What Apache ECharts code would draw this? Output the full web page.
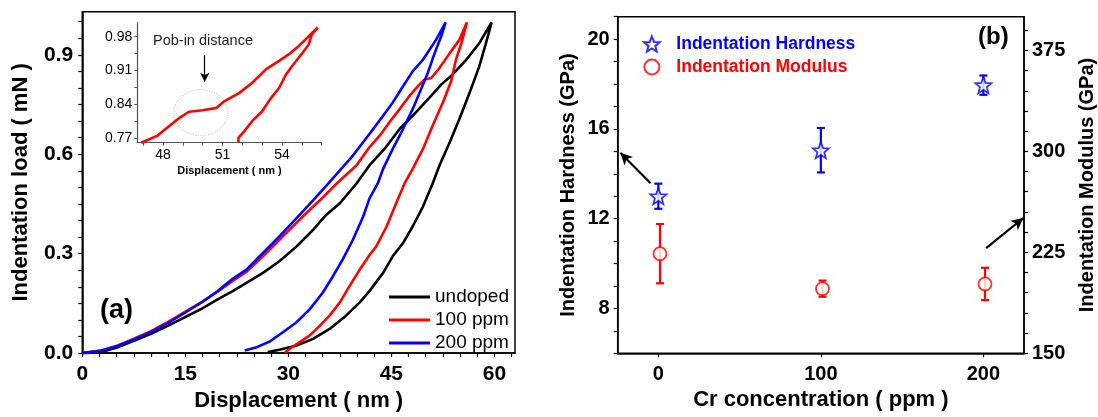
<!DOCTYPE html>
<html>
<head>
<meta charset="utf-8">
<script src="https://cdn.jsdelivr.net/npm/echarts@6/dist/echarts.min.js"></script>
<style>
  html, body { margin: 0; padding: 0; background: #fff; }
  #chart { width: 1098px; height: 417px; }
</style>
</head>
<body>
<div id="chart"></div>
<script>
// ---- panel (a): load-displacement curves [displacement nm, load mN] ----
const undopedLoading = [[0,0],[2.8,0.003],[5.2,0.018],[7.6,0.038],[10,0.058],[12.5,0.083],[14.9,0.108],[17.3,0.133],[19.7,0.162],[21.9,0.187],[23.9,0.212],[26.3,0.242],[28.7,0.277],[31.2,0.322],[33.6,0.372],[35.5,0.417],[37.5,0.452],[39.9,0.511],[41.8,0.566],[44.0,0.616],[46.2,0.676],[48.1,0.716],[50.55,0.771],[52.25,0.81],[53.9,0.84],[55.9,0.885],[57.8,0.935],[59.6,0.998]];
const undopedUnloading = [[59.6,0.998],[58.7,0.93],[57.8,0.865],[56.4,0.786],[54.9,0.706],[53.5,0.636],[52.0,0.566],[51.0,0.511],[49.6,0.442],[48.1,0.382],[46.7,0.332],[45.2,0.292],[43.8,0.242],[41.8,0.187],[40.4,0.153],[38.4,0.113],[36.0,0.073],[33.6,0.043],[31.2,0.023],[28.7,0.01],[27.0,0.003]];
const ppm100Loading = [[0,0],[2.8,0.008],[5.2,0.023],[7.6,0.044],[10,0.066],[12.5,0.094],[14.9,0.124],[17.3,0.153],[19.7,0.185],[21.9,0.218],[23.9,0.245],[26.3,0.292],[29.2,0.352],[32.1,0.412],[34.6,0.461],[37.0,0.511],[39.9,0.566],[41.8,0.621],[43.3,0.656],[44.7,0.696],[46.2,0.736],[47.6,0.775],[48.85,0.805],[49.8,0.825],[50.8,0.83],[52.0,0.86],[53.5,0.905],[54.9,0.945],[56.0,0.998]];
const ppm100Unloading = [[56.0,0.998],[55.2,0.935],[54.4,0.885],[53.7,0.82],[52.5,0.756],[51.0,0.686],[49.6,0.616],[48.1,0.556],[46.9,0.511],[45.7,0.452],[44.3,0.382],[42.8,0.322],[41.8,0.295],[40.4,0.252],[38.9,0.202],[37.5,0.153],[36.0,0.113],[34.6,0.083],[33.1,0.053],[31.65,0.033],[30.2,0.013],[29.5,0.001]];
const ppm200Loading = [[0,0],[2.8,0.008],[5.2,0.022],[7.6,0.042],[10,0.064],[12.5,0.091],[14.9,0.121],[17.3,0.152],[19.7,0.187],[21.9,0.224],[23.9,0.252],[26.3,0.302],[28.7,0.352],[31.2,0.407],[33.6,0.461],[35.8,0.511],[39.4,0.596],[41.8,0.661],[43.8,0.716],[45.2,0.756],[46.7,0.805],[48.1,0.85],[49.6,0.885],[51.5,0.945],[52.9,0.998]];
const ppm200Unloading = [[52.9,0.998],[52.25,0.955],[51.3,0.905],[50.3,0.845],[49.3,0.795],[48.1,0.736],[46.7,0.676],[45.2,0.616],[43.8,0.556],[43.0,0.511],[41.8,0.466],[40.9,0.412],[39.4,0.342],[37.9,0.282],[36.5,0.232],[35.0,0.182],[33.1,0.132],[31.2,0.093],[29.2,0.063],[27.3,0.035],[25.4,0.018],[23.65,0.008]];

// inset: pop-in region of the 100 ppm curve
const insetLoading = [[46.9,0.761],[47.7,0.775],[48.2,0.792],[48.85,0.813],[49.3,0.825],[50.0,0.828],[50.7,0.833],[51.1,0.847],[51.85,0.864],[52.5,0.885],[53.2,0.913],[53.85,0.93],[54.35,0.944],[54.85,0.961],[55.35,0.981],[55.8,0.999]];
const insetUnloading = [[55.8,0.999],[55.5,0.985],[55.35,0.964],[54.85,0.937],[54.5,0.919],[54.2,0.902],[53.85,0.874],[53.4,0.851],[53.0,0.826],[52.5,0.806],[52.1,0.785],[51.8,0.771],[51.8,0.761]];
const popInCircle = [[49.9, 0.823]];
const popInArrow = [[50.1, 0.942], [50.1, 0.887]];

const aXLabels = [0, 15, 30, 45, 60];
const aXTicks = [0,2.5,5,7.5,10,12.5,15,17.5,20,22.5,25,27.5,30,32.5,35,37.5,40,42.5,45,47.5,50,52.5,55,57.5,60,62.5];
const aYLabels = [0, 0.3, 0.6, 0.9];
const aYTicks = [0,0.05,0.1,0.15,0.2,0.25,0.3,0.35,0.4,0.45,0.5,0.55,0.6,0.65,0.7,0.75,0.8,0.85,0.9,0.95,1.0];
const insetXLabels = [48, 51, 54];
const insetXTicks = [47, 48, 49, 50, 51, 52, 53, 54, 55, 56];
const insetYLabels = [0.77, 0.84, 0.91, 0.98];
const insetYTicks = [0.77, 0.805, 0.84, 0.875, 0.91, 0.945, 0.98];

// ---- panel (b): hardness / modulus vs Cr concentration ----
const crHardness = [0, 100, 200];
const hardness = [13.0, 15.05, 17.95];
const hardnessErr = [0.56, 0.99, 0.43];
const crModulus = [1, 101, 201];
const modulus = [224, 198, 201.5];
const modulusErr = [22, 6, 12];
const hardnessArrow = [[-4.75, 13.58], [-23.4, 14.94]];
const modulusArrow = [[201.7, 10.69], [224.6, 12.03]];

const bXLabels = [0, 100, 200];
const bLeftLabels = [8, 12, 16, 20];
const bLeftTicks = [6,7,8,9,10,11,12,13,14,15,16,17,18,19,20,21];
const bRightLabels = [150, 225, 300, 375];
const bRightTicks = [150,165,180,195,210,225,240,255,270,285,300,315,330,345,360,375,390];

const FONT = 'Liberation Sans, Arial, sans-serif';
const RED = '#ff0000', BLUE = '#0000ff', BLACK = '#000000';
const STAR = 'path://M0,-10 L2.6,-3.4 L9.5,-3.1 L4.1,1.3 L5.9,8.1 L0,4.3 L-5.9,8.1 L-4.1,1.3 L-9.5,-3.1 L-2.6,-3.4 Z';

const chart = echarts.init(document.getElementById('chart'), null, { renderer: 'canvas' });

function axisBase(fontSize, bold, margin) {
  return {
    type: 'value',
    splitLine: { show: false },
    axisLine: { show: true, onZero: false, lineStyle: { color: BLACK, width: 1.5 } },
    axisTick: { show: true, length: 4, lineStyle: { color: BLACK, width: 1.2 } },
    axisLabel: { color: BLACK, fontFamily: FONT, fontSize, fontWeight: bold ? 'bold' : 'normal', margin },
    nameTextStyle: { color: BLACK, fontFamily: FONT, fontWeight: 'bold' },
  };
}

function mergeAxis(base, extra) {
  const out = Object.assign({}, base, extra);
  ['axisLine', 'axisTick', 'axisLabel', 'nameTextStyle'].forEach((k) => {
    if (extra[k]) out[k] = Object.assign({}, base[k], extra[k]);
  });
  return out;
}

function errorBars(color) {
  return (params, api) => {
    const x = api.value(0), y = api.value(1), e = api.value(2);
    const top = api.coord([x, y + e]);
    const bot = api.coord([x, y - e]);
    const cap = 4;
    const st = { stroke: color, lineWidth: 2.2 };
    return {
      type: 'group',
      children: [
        { type: 'line', shape: { x1: top[0], y1: top[1], x2: bot[0], y2: bot[1] }, style: st },
        { type: 'line', shape: { x1: top[0] - cap, y1: top[1], x2: top[0] + cap, y2: top[1] }, style: st },
        { type: 'line', shape: { x1: bot[0] - cap, y1: bot[1], x2: bot[0] + cap, y2: bot[1] }, style: st },
      ],
    };
  };
}

function arrowLine(pts, width, size) {
  return {
    silent: true,
    symbol: ['none', 'arrow'],
    symbolSize: size,
    label: { show: false },
    lineStyle: { color: BLACK, width, type: 'solid' },
    data: [[{ coord: pts[0] }, { coord: pts[1] }]],
  };
}

const curve = (name, load, unload, color) => ({
  name, type: 'line', xAxisIndex: 0, yAxisIndex: 0,
  data: load.concat(unload.slice(1)),
  symbol: 'none', showSymbol: false, animation: false,
  lineStyle: { color, width: 2.6 }, itemStyle: { color },
});

chart.setOption({
  animation: false,
  backgroundColor: '#fff',
  grid: [
    { left: 82.3, top: 11.7, width: 432.7, height: 344.3, show: true, borderColor: BLACK, borderWidth: 1.5, backgroundColor: 'transparent' },
    { left: 137.3, top: 22.7, width: 184.4, height: 120 },
    { left: 617.7, top: 16.7, width: 406.8, height: 336.6, show: true, borderColor: BLACK, borderWidth: 1.5, backgroundColor: 'transparent' },
  ],
  legend: [
    {
      data: ['undoped', '100 ppm', '200 ppm'],
      orient: 'vertical', left: 384, top: 282,
      icon: 'rect', itemWidth: 41, itemHeight: 3, itemGap: 3,
      textStyle: { fontFamily: FONT, fontSize: 19, color: BLACK, lineHeight: 20 },
      selectedMode: false,
    },
    {
      data: [
        { name: 'Indentation Hardness', textStyle: { color: BLUE } },
        { name: 'Indentation Modulus', textStyle: { color: RED } },
      ],
      orient: 'vertical', left: 638, top: 30,
      itemWidth: 31, itemHeight: 15, itemGap: 5,
      textStyle: { fontFamily: FONT, fontSize: 17.5, fontWeight: 'bold', lineHeight: 17, padding: [0, 0, 0, 4] },
      selectedMode: false,
    },
  ],
  xAxis: [
    mergeAxis(axisBase(21, true, 11), {
      gridIndex: 0, min: 0, max: 63,
      name: 'Displacement ( nm )', nameLocation: 'middle', nameGap: 30,
      nameTextStyle: { fontSize: 22 },
      axisTick: { customValues: aXTicks },
      axisLabel: { customValues: aXLabels },
    }),
    mergeAxis(axisBase(14, false, 5), {
      gridIndex: 1, min: 46.7, max: 56,
      name: 'Displacement ( nm )', nameLocation: 'middle', nameGap: 23,
      nameTextStyle: { fontSize: 11 },
      axisLine: { lineStyle: { width: 1.2 } },
      axisTick: { customValues: insetXTicks, length: 3, lineStyle: { width: 1 } },
      axisLabel: { customValues: insetXLabels },
    }),
    mergeAxis(axisBase(20, true, 11), {
      gridIndex: 2, min: -25, max: 225,
      name: 'Cr concentration ( ppm )', nameLocation: 'middle', nameGap: 34,
      nameTextStyle: { fontSize: 22 },
      axisTick: { customValues: bXLabels },
      axisLabel: { customValues: bXLabels },
    }),
  ],
  yAxis: [
    mergeAxis(axisBase(21, true, 9), {
      gridIndex: 0, min: 0, max: 1.03,
      name: 'Indentation load ( mN )', nameLocation: 'middle', nameGap: 50, nameRotate: 90,
      nameTextStyle: { fontSize: 22 },
      axisTick: { customValues: aYTicks },
      axisLabel: { customValues: aYLabels, formatter: (v) => v.toFixed(1) },
    }),
    mergeAxis(axisBase(14, false, 5), {
      gridIndex: 1, min: 0.761, max: 1.009,
      axisLine: { lineStyle: { width: 1.2 } },
      axisTick: { customValues: insetYTicks, length: 3, lineStyle: { width: 1 } },
      axisLabel: { customValues: insetYLabels, formatter: (v) => v.toFixed(2) },
    }),
    mergeAxis(axisBase(20, true, 8), {
      gridIndex: 2, min: 6, max: 21, position: 'left',
      name: 'Indentation Hardness (GPa)', nameLocation: 'middle', nameGap: 39, nameRotate: 90,
      nameTextStyle: { fontSize: 20 },
      axisTick: { customValues: bLeftTicks },
      axisLabel: { customValues: bLeftLabels },
    }),
    mergeAxis(axisBase(20, true, 8), {
      gridIndex: 2, min: 150, max: 400, position: 'right',
      name: 'Indentation Modulus (GPa)', nameLocation: 'middle', nameGap: 53, nameRotate: 90,
      nameTextStyle: { fontSize: 20 },
      axisTick: { customValues: bRightTicks },
      axisLabel: { customValues: bRightLabels },
    }),
  ],
  series: [
    curve('undoped', undopedLoading, undopedUnloading, BLACK),
    curve('100 ppm', ppm100Loading, ppm100Unloading, RED),
    curve('200 ppm', ppm200Loading, ppm200Unloading, BLUE),
    {
      name: 'inset', type: 'line', xAxisIndex: 1, yAxisIndex: 1,
      data: insetLoading.concat(insetUnloading.slice(1)),
      symbol: 'none', lineStyle: { color: RED, width: 2.6 }, itemStyle: { color: RED },
    },
    {
      name: 'pop-in', type: 'scatter', xAxisIndex: 1, yAxisIndex: 1, silent: true,
      data: popInCircle, symbol: 'circle', symbolSize: [54, 46],
      itemStyle: { color: 'rgba(0,0,0,0)', borderColor: '#c4c4c4', borderWidth: 1.2, borderType: 'dotted' },
      markLine: arrowLine(popInArrow, 1.2, [7, 9]),
      z: 1,
    },
    {
      name: 'hardnessErr', type: 'custom', xAxisIndex: 2, yAxisIndex: 2,
      data: crHardness.map((x, i) => [x, hardness[i], hardnessErr[i]]),
      encode: { x: 0, y: 1 }, renderItem: errorBars(BLUE), z: 2,
      markLine: arrowLine(hardnessArrow, 2.2, [9, 12]),
    },
    {
      name: 'modulusErr', type: 'custom', xAxisIndex: 2, yAxisIndex: 3,
      data: crModulus.map((x, i) => [x, modulus[i], modulusErr[i]]),
      encode: { x: 0, y: 1 }, renderItem: errorBars(RED), z: 2,
    },
    {
      name: 'arrowRight', type: 'line', xAxisIndex: 2, yAxisIndex: 2, data: [],
      markLine: arrowLine(modulusArrow, 2.2, [9, 12]),
    },
    {
      name: 'Indentation Hardness', type: 'scatter', xAxisIndex: 2, yAxisIndex: 2,
      data: crHardness.map((x, i) => [x, hardness[i]]),
      symbol: STAR, symbolSize: 16, z: 3,
      itemStyle: { color: '#ffffff', borderColor: BLUE, borderWidth: 1.8 },
    },
    {
      name: 'Indentation Modulus', type: 'scatter', xAxisIndex: 2, yAxisIndex: 3,
      data: crModulus.map((x, i) => [x, modulus[i]]),
      symbol: 'circle', symbolSize: 13, z: 3,
      itemStyle: { color: '#ffffff', borderColor: RED, borderWidth: 1.8 },
    },
  ],
  graphic: [
    { type: 'text', left: 100, top: 297, style: { text: '(a)', font: 'bold 27px ' + FONT, fill: BLACK } },
    { type: 'text', left: 978, top: 25, style: { text: '(b)', font: 'bold 24px ' + FONT, fill: BLACK } },
    { type: 'text', left: 153, top: 33, style: { text: 'Pob-in distance', font: '14.5px ' + FONT, fill: '#222' } },
  ],
});
</script>
</body>
</html>
